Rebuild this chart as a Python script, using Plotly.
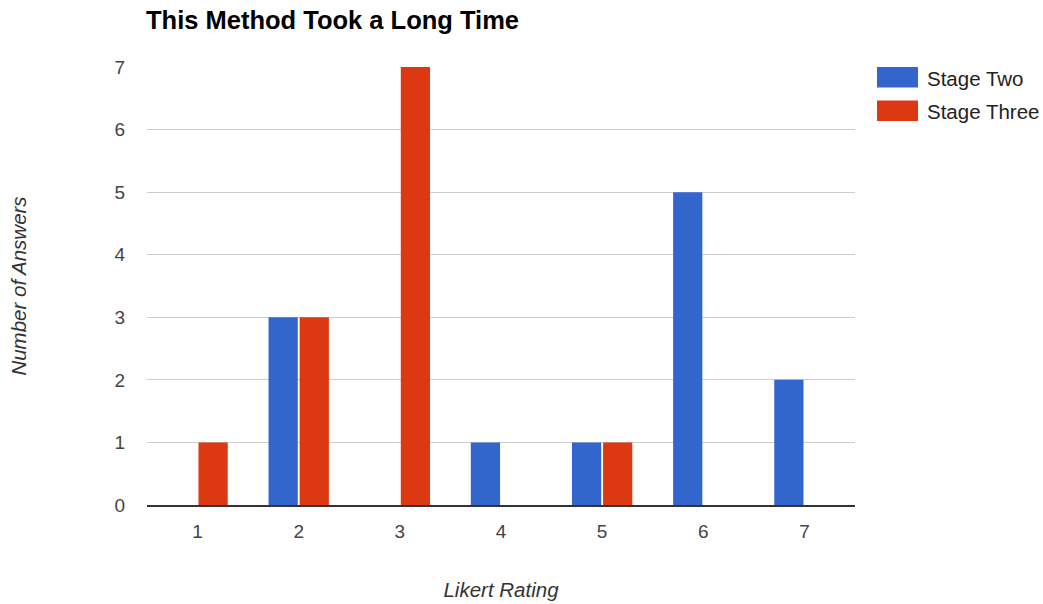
import plotly.graph_objects as go

ratings = [1, 2, 3, 4, 5, 6, 7]
stage_two = [0, 3, 0, 1, 1, 5, 2]
stage_three = [1, 3, 7, 0, 1, 0, 0]
series_names = ["Stage Two", "Stage Three"]
series_colors = ["#3366cc", "#dc3912"]

FONT = "Liberation Sans, Arial, sans-serif"

fig = go.Figure()
for name, vals, col in zip(series_names, [stage_two, stage_three], series_colors):
    fig.add_trace(go.Bar(
        x=ratings, y=vals, name=name,
        marker=dict(color=col, line=dict(width=0)),
        showlegend=False,
    ))

# Custom legend with wide colour swatches
for i, (name, col) in enumerate(zip(series_names, series_colors)):
    y0 = 67 + i * 33.5
    fig.add_shape(type="rect", xref="paper", yref="paper",
                  x0=(877 - 147) / 708, x1=(918 - 147) / 708,
                  y0=(505 - (y0 + 20.5)) / 438, y1=(505 - y0) / 438,
                  fillcolor=col, line=dict(width=0))
    fig.add_annotation(xref="paper", yref="paper",
                       x=(925 - 147) / 708, y=(505 - (y0 + 11)) / 438,
                       text=name, showarrow=False, xanchor="left", yanchor="middle",
                       font=dict(family=FONT, size=20.5, color="#222"))

fig.update_layout(
    width=1043, height=604,
    margin=dict(l=147, r=188, t=67, b=99),
    paper_bgcolor="white", plot_bgcolor="white",
    barmode="group", bargap=0.385, bargroupgap=0.06,
    title=dict(text="<b>This Method Took a Long Time</b>", x=146 / 1043, xanchor="left",
               y=1 - 20 / 604, yanchor="middle",
               font=dict(family=FONT, size=25.5, color="#000")),
    font=dict(family=FONT),
)
fig.update_xaxes(
    range=[0.5, 7.5], tickmode="array", tickvals=ratings, ticktext=[str(r) for r in ratings],
    showgrid=False, zeroline=False, showline=True, linecolor="#333", linewidth=2,
    ticks="", ticklen=0, tickfont=dict(size=19, color="#444"),
    ticklabelstandoff=8, automargin=False,
    title=dict(text="<i>Likert Rating</i>", font=dict(size=20.5, color="#333"), standoff=42),
)
fig.update_yaxes(
    range=[0, 7], dtick=1, showgrid=True, gridcolor="#cccccc", gridwidth=1,
    zeroline=False, showline=False, ticks="", tickfont=dict(size=19, color="#444"),
    ticklabelstandoff=21, automargin=False,
    title=dict(text="<i>Number of Answers</i>", font=dict(size=20.5, color="#333"), standoff=82),
)

fig.write_html("out.html")
